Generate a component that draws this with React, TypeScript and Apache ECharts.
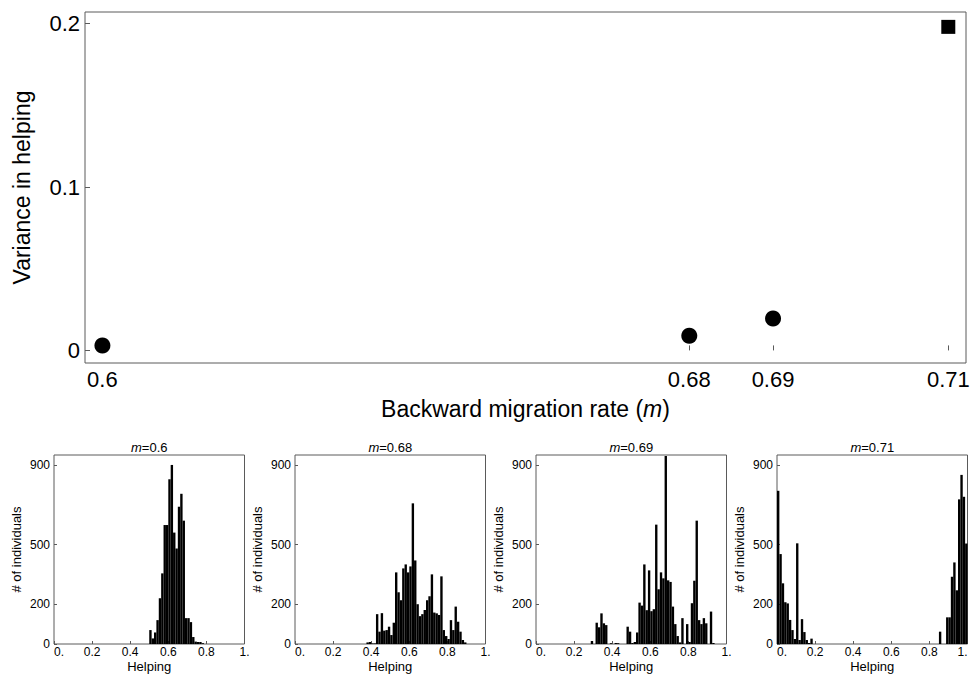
import React, { useEffect, useRef } from 'react';
import * as echarts from 'echarts';

// ---------- Main chart data ----------
const mValues = [0.6, 0.68, 0.69, 0.71];
const varianceValues = [0.003, 0.009, 0.0195, 0.198];
const mTickLabels = ['0.6', '0.68', '0.69', '0.71'];
const varianceTicks = [0, 0.1, 0.2];
const varianceTickLabels = ['0', '0.1', '0.2'];

// ---------- Histogram data (bin left edge, count) ----------
const binWidth = 0.0125;

const m060Helping = [0.5, 0.5125, 0.525, 0.5375, 0.55, 0.5625, 0.575, 0.5875, 0.6, 0.6125, 0.625, 0.6375, 0.65, 0.6625, 0.675, 0.6875, 0.7, 0.7125, 0.725, 0.7375, 0.75, 0.7625, 0.775];
const m060Counts = [70, 28, 58, 120, 230, 355, 598, 598, 828, 900, 560, 480, 690, 755, 620, 130, 130, 110, 35, 12, 10, 10, 4];

const m068Helping = [0.375, 0.3875, 0.4, 0.4125, 0.425, 0.4375, 0.45, 0.4625, 0.475, 0.4875, 0.5, 0.5125, 0.525, 0.5375, 0.55, 0.5625, 0.575, 0.5875, 0.6, 0.6125, 0.625, 0.6375, 0.65, 0.6625, 0.675, 0.6875, 0.7, 0.7125, 0.725, 0.7375, 0.75, 0.7625, 0.775, 0.7875, 0.8, 0.8125, 0.825, 0.8375, 0.85, 0.8625, 0.875, 0.8875];
const m068Counts = [8, 10, 3, 3, 150, 62, 155, 67, 70, 87, 45, 107, 360, 260, 220, 380, 400, 360, 390, 707, 420, 200, 140, 150, 171, 220, 240, 350, 158, 154, 146, 340, 70, 40, 25, 120, 70, 188, 112, 62, 20, 8];

const m069Helping = [0.2875, 0.3125, 0.325, 0.3375, 0.35, 0.3625, 0.3875, 0.4125, 0.425, 0.475, 0.4875, 0.5, 0.5125, 0.525, 0.5375, 0.55, 0.5625, 0.575, 0.5875, 0.6, 0.6125, 0.625, 0.6375, 0.65, 0.6625, 0.675, 0.6875, 0.7, 0.7125, 0.725, 0.7375, 0.75, 0.7625, 0.7875, 0.8, 0.8125, 0.825, 0.8375, 0.85, 0.8625, 0.875, 0.8875, 0.9125, 0.925];
const m069Counts = [15, 107, 84, 154, 104, 95, 4, 5, 4, 87, 62, 5, 10, 58, 208, 193, 400, 170, 370, 165, 175, 600, 275, 360, 330, 945, 320, 312, 188, 100, 40, 8, 130, 100, 10, 205, 318, 620, 120, 100, 130, 104, 163, 5];

const m071Helping = [0, 0.0125, 0.025, 0.0375, 0.05, 0.0625, 0.075, 0.0875, 0.1, 0.1125, 0.125, 0.1375, 0.15, 0.1625, 0.175, 0.85, 0.8875, 0.9, 0.9125, 0.925, 0.9375, 0.95, 0.9625, 0.975, 0.9875];
const m071Counts = [770, 452, 305, 210, 204, 121, 70, 25, 506, 20, 125, 60, 20, 5, 27, 62, 134, 134, 338, 410, 270, 727, 850, 740, 505];

const histTicks = [0, 0.2, 0.4, 0.6, 0.8, 1];
const histTickLabels = ['0.', '0.2', '0.4', '0.6', '0.8', '1.'];
const countTicks = [0, 200, 500, 900];
const countTickLabels = ['0', '200', '500', '900'];

const panels = [
  { m: mValues[0], helping: m060Helping, counts: m060Counts },
  { m: mValues[1], helping: m068Helping, counts: m068Counts },
  { m: mValues[2], helping: m069Helping, counts: m069Counts },
  { m: mValues[3], helping: m071Helping, counts: m071Counts },
];

const FONT = "'Liberation Sans', Arial, Helvetica, sans-serif";
const FRAME = '#5a5a5a';

// the main x axis is drawn on an exponential scale (positions ~ exp(3m))
const toAxis = (m: number) => Math.exp(3 * m);

function nearestLabel(v: number, ticks: number[], labels: string[]) {
  let best = 0;
  let bd = Infinity;
  ticks.forEach((t, i) => {
    const d = Math.abs(t - v);
    if (d < bd) { bd = d; best = i; }
  });
  return labels[best];
}

export default function App() {
  const ref = useRef<HTMLDivElement>(null);

  useEffect(() => {
    if (!ref.current) return;
    const chart = echarts.init(ref.current, undefined, { renderer: 'svg' });

    const mainTicks = mValues.map(toAxis);
    const xMin = toAxis(0.6) - 0.0487;
    const xMax = toAxis(0.71) + 0.0495;

    const histLefts = [54, 295, 536, 777];
    const histWidth = 190.5;
    const histTop = 455;
    const histHeight = 189;

    const grids: any[] = [
      { left: 85, top: 12, width: 881, height: 351, show: true, borderColor: FRAME, borderWidth: 1, containLabel: false, outerBoundsMode: 'none' },
      ...histLefts.map((l) => ({ left: l, top: histTop, width: histWidth, height: histHeight, show: true, borderColor: FRAME, borderWidth: 1, containLabel: false, outerBoundsMode: 'none' })),
    ];

    const xAxes: any[] = [
      {
        type: 'value', gridIndex: 0, min: xMin, max: xMax,
        name: 'Backward migration rate ({i|m})', nameLocation: 'middle', nameGap: 34,
        nameTextStyle: { fontSize: 23, color: '#000', fontFamily: FONT, rich: { i: { fontStyle: 'italic', fontSize: 23, fontFamily: FONT, color: '#000' } } },
        axisLine: { show: false },
        axisTick: { show: true, inside: true, length: 5, customValues: mainTicks, lineStyle: { color: FRAME } },
        axisLabel: { show: true, customValues: mainTicks, margin: 5, fontSize: 22, color: '#000', fontFamily: FONT, formatter: (v: number) => nearestLabel(v, mainTicks, mTickLabels) },
        splitLine: { show: false },
      },
      ...panels.map((_, i) => ({
        type: 'value', gridIndex: i + 1, min: 0, max: 1,
        name: 'Helping', nameLocation: 'middle', nameGap: 16,
        nameTextStyle: { fontSize: 13, color: '#000', fontFamily: FONT },
        axisLine: { show: false },
        axisTick: { show: true, inside: true, length: 3, customValues: histTicks, lineStyle: { color: FRAME } },
        axisLabel: {
          show: true, customValues: histTicks, margin: 2, fontSize: 12, color: '#000', fontFamily: FONT,
          alignMinLabel: 'left', alignMaxLabel: i === panels.length - 1 ? 'right' : 'center',
          formatter: (v: number) => nearestLabel(v, histTicks, histTickLabels),
        },
        splitLine: { show: false },
      })),
    ];

    const yAxes: any[] = [
      {
        type: 'value', gridIndex: 0, min: -0.0077, max: 0.2071,
        name: 'Variance in helping', nameLocation: 'middle', nameGap: 52,
        nameTextStyle: { fontSize: 23, color: '#000', fontFamily: FONT },
        axisLine: { show: false },
        axisTick: { show: true, inside: true, length: 5, customValues: varianceTicks, lineStyle: { color: FRAME } },
        axisLabel: { show: true, customValues: varianceTicks, margin: 5, fontSize: 22, color: '#000', fontFamily: FONT, formatter: (v: number) => nearestLabel(v, varianceTicks, varianceTickLabels) },
        splitLine: { show: false },
      },
      ...panels.map((_, i) => ({
        type: 'value', gridIndex: i + 1, min: 0, max: 950,
        name: '# of individuals', nameLocation: 'middle', nameGap: 31,
        nameTextStyle: { fontSize: 13, color: '#000', fontFamily: FONT },
        axisLine: { show: false },
        axisTick: { show: true, inside: true, length: 3, customValues: countTicks, lineStyle: { color: FRAME } },
        axisLabel: { show: true, customValues: countTicks, margin: 4, fontSize: 12, color: '#000', fontFamily: FONT, formatter: (v: number) => nearestLabel(v, countTicks, countTickLabels) },
        splitLine: { show: false },
      })),
    ];

    const series: any[] = [
      {
        type: 'scatter', xAxisIndex: 0, yAxisIndex: 0, silent: true,
        data: mValues.map((m, i) => ({
          value: [toAxis(m), varianceValues[i]],
          symbol: i === mValues.length - 1 ? 'rect' : 'circle',
          symbolSize: i === mValues.length - 1 ? 14 : 16,
        })),
        itemStyle: { color: '#000', opacity: 1 },
      },
      ...panels.map((p, i) => ({
        type: 'custom', xAxisIndex: i + 1, yAxisIndex: i + 1, silent: true,
        encode: { x: 0, y: 1 },
        data: p.helping.map((h, j) => [h, p.counts[j]]),
        renderItem: (params: any, api: any) => {
          const x0 = api.value(0);
          const c = api.value(1);
          const p0 = api.coord([x0, 0]);
          const p1 = api.coord([x0 + binWidth, c]);
          return {
            type: 'rect',
            shape: { x: p0[0], y: p1[1], width: p1[0] - p0[0], height: p0[1] - p1[1] },
            style: { fill: '#000' },
          };
        },
      })),
    ];

    const graphic: any[] = panels.map((p, i) => ({
      type: 'text',
      x: histLefts[i] + histWidth / 2,
      y: 447,
      style: {
        text: `{i|m}=${p.m}`,
        rich: { i: { fontStyle: 'italic', fontSize: 13, fontFamily: FONT, fill: '#000' } },
        fontSize: 13, fontFamily: FONT, fill: '#000',
        align: 'center', verticalAlign: 'middle',
      },
    }));

    chart.setOption({
      animation: false,
      backgroundColor: '#fff',
      textStyle: { fontFamily: FONT },
      grid: grids,
      xAxis: xAxes,
      yAxis: yAxes,
      series,
      graphic,
    });

    return () => chart.dispose();
  }, []);

  return <div ref={ref} style={{ position: 'fixed', left: 0, top: 0, width: 970, height: 686, background: '#fff' }} />;
}
